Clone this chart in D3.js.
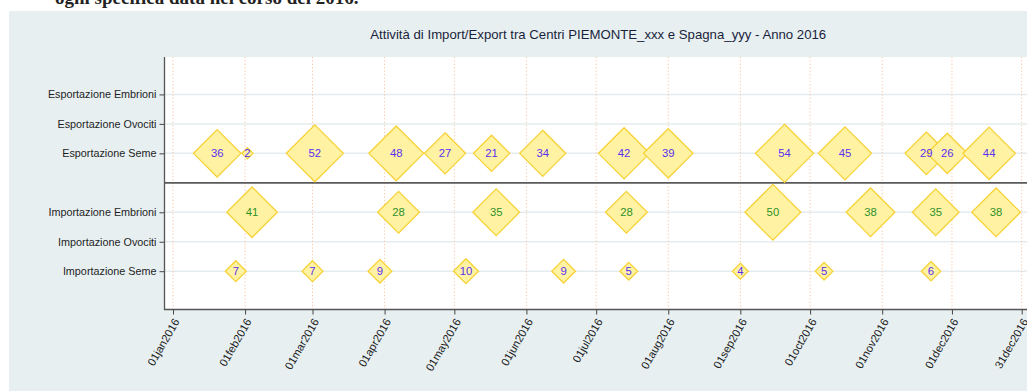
<!DOCTYPE html>
<html>
<head>
<meta charset="utf-8">
<script src="https://cdn.jsdelivr.net/npm/d3@7/dist/d3.min.js"></script>
<style>
  html, body { margin: 0; padding: 0; background: #ffffff; overflow: hidden; }
  svg { display: block; }
  text { font-family: "Liberation Sans", Arial, Helvetica, sans-serif; }
</style>
</head>
<body>
<svg id="chart" width="1027" height="391"></svg>
<script>
// Row categories (coded positions as in the source dataset; 4 is the export/import divider)
const rowLabels = ["Importazione Seme", "Importazione Ovociti", "Importazione Embrioni",
                   "Esportazione Seme", "Esportazione Ovociti", "Esportazione Embrioni"];
const rowCodes = [1, 2, 3, 5, 6, 7];
const dividerCode = 4;

// Export of semen
const exportSemeDates = ["2016-01-20", "2016-02-02", "2016-03-02", "2016-04-06", "2016-04-27",
                         "2016-05-17", "2016-06-08", "2016-07-13", "2016-08-01", "2016-09-20",
                         "2016-10-16", "2016-11-20", "2016-11-29", "2016-12-17"];
const exportSemeValues = [36, 2, 52, 48, 27, 21, 34, 42, 39, 54, 45, 29, 26, 44];

// Import of embryos
const importEmbrioniDates = ["2016-02-04", "2016-04-07", "2016-05-19", "2016-07-14",
                             "2016-09-15", "2016-10-27", "2016-11-24", "2016-12-20"];
const importEmbrioniValues = [41, 28, 35, 28, 50, 38, 35, 38];

// Import of semen
const importSemeDates = ["2016-01-28", "2016-03-01", "2016-03-30", "2016-05-06", "2016-06-17",
                         "2016-07-15", "2016-09-01", "2016-10-07", "2016-11-22"];
const importSemeValues = [7, 7, 9, 10, 9, 5, 4, 5, 6];

// X axis tick dates and labels
const tickDates = ["2016-01-01", "2016-02-01", "2016-03-01", "2016-04-01", "2016-05-01", "2016-06-01",
                   "2016-07-01", "2016-08-01", "2016-09-01", "2016-10-01", "2016-11-01", "2016-12-01",
                   "2016-12-31"];
const tickLabels = ["01jan2016", "01feb2016", "01mar2016", "01apr2016", "01may2016", "01jun2016",
                    "01jul2016", "01aug2016", "01sep2016", "01oct2016", "01nov2016", "01dec2016",
                    "31dec2016"];

const titleText = "Attività di Import/Export tra Centri PIEMONTE_xxx e Spagna_yyy - Anno 2016";
const headerText = "ogni specifica data nel corso del 2016.";

const parse = d3.utcParse("%Y-%m-%d");

const series = [
  { code: 5, dates: exportSemeDates, values: exportSemeValues, labelColor: "#5a2ff0" },
  { code: 3, dates: importEmbrioniDates, values: importEmbrioniValues, labelColor: "#2f8f2a" },
  { code: 1, dates: importSemeDates, values: importSemeValues, labelColor: "#5a2ff0" }
];

const svg = d3.select("#chart");

// Heading text from the surrounding document
svg.append("text")
  .attr("x", 55).attr("y", 3.5)
  .style("font-family", "'Liberation Serif', 'DejaVu Serif', serif")
  .attr("font-weight", "bold")
  .attr("font-size", 19)
  .attr("fill", "#222")
  .text(headerText);

// Graph region background
svg.append("rect")
  .attr("x", 9).attr("y", 11)
  .attr("width", 1027 - 9).attr("height", 391 - 11)
  .attr("fill", "#e7eff1");

const plot = { left: 164.5, right: 1032, top: 57, bottom: 309.5 };

svg.append("rect")
  .attr("x", plot.left).attr("y", plot.top)
  .attr("width", plot.right - plot.left).attr("height", plot.bottom - plot.top)
  .attr("fill", "#ffffff");

const x = d3.scaleUtc()
  .domain([parse("2016-01-01"), parse("2016-12-31")])
  .range([173, 1021.7]);

const y = d3.scaleLinear()
  .domain([-0.3, 8.27])
  .range([plot.bottom, plot.top]);

// Horizontal gridlines at each row
svg.append("g").selectAll("line")
  .data(rowCodes)
  .join("line")
  .attr("x1", plot.left).attr("x2", plot.right)
  .attr("y1", d => y(d)).attr("y2", d => y(d))
  .attr("stroke", "#e4ecef")
  .attr("stroke-width", 1.5);

// Vertical dotted gridlines at each tick date
svg.append("g").selectAll("line")
  .data(tickDates)
  .join("line")
  .attr("x1", d => x(parse(d))).attr("x2", d => x(parse(d)))
  .attr("y1", plot.top).attr("y2", plot.bottom)
  .attr("stroke", "#f8c4a4")
  .attr("stroke-width", 1)
  .attr("stroke-dasharray", "1.2,2.2");

// Divider between exports and imports
svg.append("line")
  .attr("x1", plot.left).attr("x2", plot.right)
  .attr("y1", y(dividerCode)).attr("y2", y(dividerCode))
  .attr("stroke", "#5a5a5a")
  .attr("stroke-width", 1.8);

// Y axis
const yAxis = d3.axisLeft(y)
  .tickValues(rowCodes)
  .tickSize(5)
  .tickPadding(3)
  .tickFormat(d => rowLabels[rowCodes.indexOf(d)]);

const gy = svg.append("g")
  .attr("transform", `translate(${plot.left},0)`)
  .call(yAxis);
gy.select(".domain").remove();
gy.selectAll(".tick line").attr("stroke", "#444").attr("stroke-width", 1);
gy.selectAll(".tick text")
  .attr("font-size", 10.8)
  .attr("fill", "#1e1e1e")
  .style("font-family", "'Liberation Sans', Arial, sans-serif");
svg.append("line")
  .attr("x1", plot.left).attr("x2", plot.left)
  .attr("y1", plot.top).attr("y2", plot.bottom + 0.5)
  .attr("stroke", "#555").attr("stroke-width", 1.3);

// X axis
const xAxis = d3.axisBottom(x)
  .tickValues(tickDates.map(parse))
  .tickSize(5)
  .tickFormat((d, i) => tickLabels[i]);

const gx = svg.append("g")
  .attr("transform", `translate(0,${plot.bottom})`)
  .call(xAxis);
gx.select(".domain").remove();
gx.selectAll(".tick line").attr("stroke", "#444").attr("stroke-width", 1);
gx.selectAll(".tick text")
  .attr("font-size", 11.2)
  .attr("fill", "#1e1e1e")
  .style("font-family", "'Liberation Sans', Arial, sans-serif")
  .attr("text-anchor", "end")
  .attr("dy", "0.35em")
  .attr("y", 0)
  .attr("transform", "translate(3,10) rotate(-60)");
svg.append("line")
  .attr("x1", plot.left - 0.5).attr("x2", plot.right)
  .attr("y1", plot.bottom).attr("y2", plot.bottom)
  .attr("stroke", "#555").attr("stroke-width", 1.3);

// Diamond markers with area proportional to the value
const points = [];
series.forEach(s => {
  s.dates.forEach((d, i) => {
    points.push({ date: parse(d), value: s.values[i], code: s.code, color: s.labelColor });
  });
});

const halfDiag = v => 3.95 * Math.sqrt(v);

const markers = svg.append("g");
series.forEach(s => {
  const pts = points.filter(p => p.code === s.code);
  markers.append("g").selectAll("path")
    .data(pts)
    .join("path")
    .attr("d", p => {
      const cx = x(p.date), cy = y(p.code), r = halfDiag(p.value);
      return `M${cx},${cy - r}L${cx + r},${cy}L${cx},${cy + r}L${cx - r},${cy}Z`;
    })
    .attr("fill", "#fff3a3")
    .attr("stroke", "#f7d236")
    .attr("stroke-width", 1.3)
    .attr("stroke-linejoin", "miter");
});

// Value labels centred on each marker
svg.append("g").selectAll("text")
  .data(points)
  .join("text")
  .attr("x", p => x(p.date))
  .attr("y", p => y(p.code))
  .attr("dy", "0.36em")
  .attr("text-anchor", "middle")
  .attr("font-size", 11.3)
  .attr("fill", p => p.color)
  .text(p => p.value);

// Title
svg.append("text")
  .attr("x", (plot.left + plot.right) / 2)
  .attr("y", 39)
  .attr("text-anchor", "middle")
  .attr("font-size", 13.2)
  .attr("fill", "#1a1f3c")
  .text(titleText);
</script>
</body>
</html>
